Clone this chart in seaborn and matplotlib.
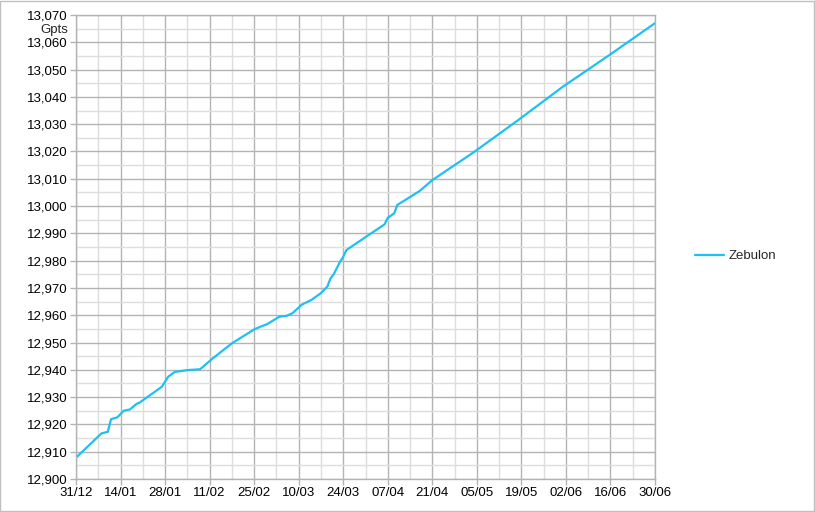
import matplotlib
matplotlib.use("Agg")
import matplotlib.pyplot as plt
import matplotlib.dates as mdates
import matplotlib.ticker as mticker
from matplotlib.patches import Rectangle
import seaborn as sns
import pandas as pd

series_name = "Zebulon"
unit_label = "Gpts"
start_date = "2023-12-31"
day_offsets = [0, 8, 10, 11, 13, 15, 17, 19, 20, 27, 29, 31, 35, 39, 40, 43, 49, 56, 58,
               60, 64, 66, 68, 71, 74, 77, 79, 80, 81, 83, 84, 85, 92, 97, 98, 100, 101,
               108, 112, 125, 139, 153, 168, 182]
values = [12907.8, 12916.7, 12917.3, 12921.9, 12922.6, 12925.0, 12925.5, 12927.5, 12928.0,
          12933.8, 12937.5, 12939.2, 12939.9, 12940.2, 12941.2, 12944.2, 12949.7, 12954.8,
          12955.8, 12956.7, 12959.5, 12959.7, 12960.7, 12963.9, 12965.6, 12968.1, 12970.5,
          12973.5, 12975.0, 12979.6, 12981.4, 12983.9, 12989.4, 12993.3, 12995.7, 12997.3,
          13000.4, 13005.5, 13009.5, 13019.7, 13031.5, 13043.7, 13055.6, 13067.0]

dates = pd.Timestamp(start_date) + pd.to_timedelta(day_offsets, unit="D")
df = pd.DataFrame({"date": dates, "value": values})

sns.set_theme(style="white")
plt.rcParams["font.family"] = ["Liberation Sans", "DejaVu Sans"]

fig = plt.figure(figsize=(8.15, 5.12), dpi=100)
ax = fig.add_axes([76 / 815, 1 - 479 / 512, (655 - 76) / 815, (479 - 15) / 512])

line_color = "#1ec0f2"
sns.lineplot(data=df, x="date", y="value", ax=ax, color=line_color, linewidth=1.6,
             label=series_name, legend=False)

x0 = pd.Timestamp(start_date)
x1 = x0 + pd.Timedelta(days=182)
ax.set_xlim(x0, x1)
ax.set_ylim(12900, 13070)

major_x = mdates.date2num(pd.date_range(x0, x1, freq="14D").to_pydatetime())
minor_x = mdates.date2num(pd.date_range(x0, x1, freq="7D").to_pydatetime())
ax.xaxis.set_major_locator(mticker.FixedLocator(major_x))
ax.xaxis.set_minor_locator(mticker.FixedLocator(minor_x))
ax.xaxis.set_major_formatter(mdates.DateFormatter("%d/%m"))
ax.yaxis.set_major_locator(mticker.MultipleLocator(10))
ax.yaxis.set_minor_locator(mticker.MultipleLocator(5))
ax.yaxis.set_major_formatter(mticker.FuncFormatter(lambda v, p: f"{v:,.0f}"))

ax.grid(which="minor", color="#dddddd", linewidth=1.0)
ax.grid(which="major", color="#b3b3b3", linewidth=1.0)
ax.set_axisbelow(True)
for s in ax.spines.values():
    s.set_color("#b3b3b3")
    s.set_linewidth(1.0)

ax.tick_params(axis="both", which="major", labelsize=9.5, colors="#b3b3b3",
               labelcolor="black", length=4, width=1, direction="out",
               bottom=True, left=True, pad=2)
ax.tick_params(axis="both", which="minor", length=0)
ax.set_xlabel("")
ax.set_ylabel("")

fig.text(68 / 815, 1 - 30 / 512, unit_label, ha="right", va="center", fontsize=9.5)

handles, labels = ax.get_legend_handles_labels()
fig.legend(handles, labels, loc="center left", bbox_to_anchor=(683 / 815, 1 - 256 / 512),
           frameon=False, fontsize=9.5, handlelength=2.2, handletextpad=0.35)

fig.patches.append(Rectangle((0.0006, 0.001), 0.9982, 0.997, transform=fig.transFigure,
                             fill=False, edgecolor="#c0c0c0", linewidth=1.0))

fig.savefig("out.png", dpi=100)
